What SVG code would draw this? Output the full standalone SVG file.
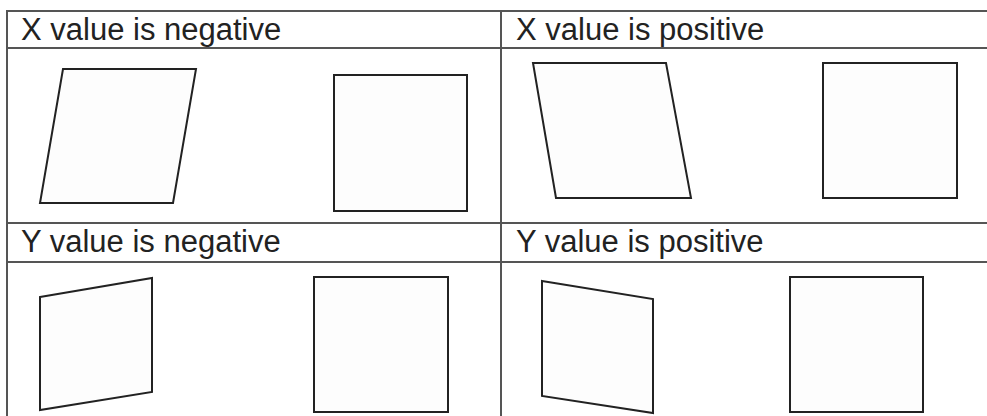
<svg xmlns="http://www.w3.org/2000/svg" width="987" height="416" viewBox="0 0 987 416">
<style>
.grid{stroke:#555;stroke-width:2;fill:none}
.lbl{font-family:"Liberation Sans",Arial,sans-serif;font-size:31px;fill:#222}
.shp{stroke:#222;stroke-width:2;fill:#fdfdfd;stroke-linejoin:miter}
.sq{stroke:#222;stroke-width:2;fill:#fdfdfd;shape-rendering:crispEdges}
</style>
<rect width="987" height="416" fill="#ffffff"/>
<g id="table">
<line class="grid" x1="7" y1="11" x2="987" y2="11"/>
<line class="grid" x1="7" y1="48" x2="987" y2="48"/>
<line class="grid" x1="7" y1="223" x2="987" y2="223"/>
<line class="grid" x1="7" y1="262" x2="987" y2="262"/>
<line class="grid" x1="7" y1="10" x2="7" y2="416"/>
<line class="grid" x1="501" y1="11" x2="501" y2="416"/>
</g>
<g id="x-negative">
<text class="lbl" x="21" y="40">X value is negative</text>
<polygon class="shp" points="63,69 196,69 173,203 40,203"/>
<rect class="sq" x="334" y="75" width="133" height="136"/>
</g>
<g id="x-positive">
<text class="lbl" x="516" y="40">X value is positive</text>
<polygon class="shp" points="533,63 666,63 691,198 556,198"/>
<rect class="sq" x="823" y="63" width="134" height="135"/>
</g>
<g id="y-negative">
<text class="lbl" x="21" y="252">Y value is negative</text>
<polygon class="shp" points="40,297 152,278 152,392 40,410"/>
<rect class="sq" x="314" y="277" width="134" height="135"/>
</g>
<g id="y-positive">
<text class="lbl" x="516" y="252">Y value is positive</text>
<polygon class="shp" points="542,281 653,299 653,413 542,396"/>
<rect class="sq" x="790" y="277" width="133" height="135"/>
</g>
</svg>
